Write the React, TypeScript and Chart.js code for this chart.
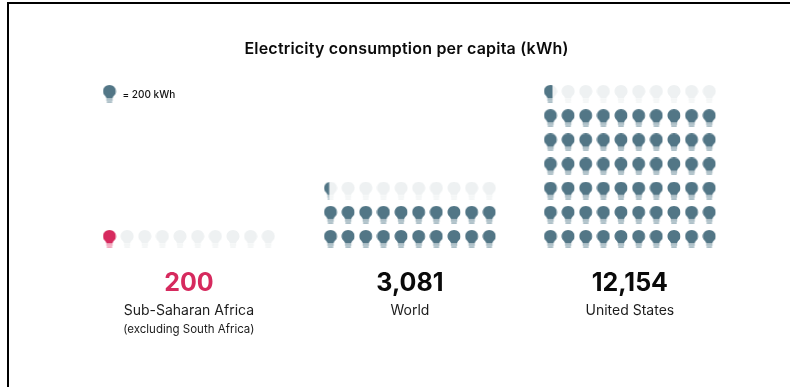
import React, { useEffect, useRef } from "react";
import { Chart, registerables } from "chart.js";

Chart.register(...registerables);

const FONT = "Inter, 'Noto Sans', sans-serif";
const TEAL = "#527686";
const TEAL_BASE = "#a3b8c1";
const CRIMSON = "#d62a5e";
const CRIMSON_BASE = "#f0a0b8";
const EMPTY = "#eef1f2";
const EMPTY_BASE = "#f3f5f6";

const chartTitle = "Electricity consumption per capita (kWh)";
const legendText = "= 200 kWh";
const regions = ["Sub-Saharan Africa", "World", "United States"];
const regionNotes = ["(excluding South Africa)", "", ""];
const consumption = [200, 3081, 12154];
const valueColors = [CRIMSON, "#0a0a0a", "#0a0a0a"];
const filledBulbs = [1, 20.4, 60.65];
const gridRows = [1, 3, 7];
const groupStartColumn = [0, 12.53, 25];
const COLUMNS = 10;

// Column/row units of the hidden scales: one unit is one bulb slot.
const COL_PX = 17.64;
const ROW_PX = 24.17;
const ORIGIN_X = 109.5;
const ORIGIN_Y = 239;

function bulbPath(c: CanvasRenderingContext2D) {
  c.beginPath();
  c.moveTo(3.9, 13.6);
  c.lineTo(3.7, 12.4);
  c.bezierCurveTo(3.2, 10.8, 0.5, 9.6, 0.5, 6.4);
  c.bezierCurveTo(0.5, 2.9, 3.4, 0.1, 7, 0.1);
  c.bezierCurveTo(10.6, 0.1, 13.5, 2.9, 13.5, 6.4);
  c.bezierCurveTo(13.5, 9.6, 10.8, 10.8, 10.3, 12.4);
  c.lineTo(10.1, 13.6);
  c.closePath();
}

function bulbBase(c: CanvasRenderingContext2D) {
  c.fillRect(3.8, 14.1, 6.4, 1.7);
  c.fillRect(4.3, 16.2, 5.4, 1.7);
}

// One bulb sprite: the empty bulb, with the lit colour clipped to the fill fraction.
function bulbSprite(fraction: number, body: string, base: string) {
  const cv = document.createElement("canvas");
  cv.width = 14;
  cv.height = 18;
  const c = cv.getContext("2d") as CanvasRenderingContext2D;
  const paint = (b: string, s: string) => {
    c.fillStyle = b;
    bulbPath(c);
    c.fill();
    c.fillStyle = s;
    bulbBase(c);
  };
  paint(EMPTY, EMPTY_BASE);
  if (fraction > 0) {
    c.save();
    c.beginPath();
    c.rect(0, 0, 0.5 + 13 * fraction, 18);
    c.clip();
    c.clearRect(0, 0, 14, 18);
    paint(body, base);
    c.restore();
  }
  return cv;
}

type Cell = { x: number; y: number; sprite: HTMLCanvasElement };

function groupCells(g: number): Cell[] {
  const cells: Cell[] = [];
  const lit = g === 0 ? CRIMSON : TEAL;
  const litBase = g === 0 ? CRIMSON_BASE : TEAL_BASE;
  for (let i = 0; i < gridRows[g] * COLUMNS; i++) {
    const fraction = Math.max(0, Math.min(1, filledBulbs[g] - i));
    cells.push({
      x: groupStartColumn[g] + (i % COLUMNS),
      y: Math.floor(i / COLUMNS),
      sprite: bulbSprite(fraction, lit, litBase),
    });
  }
  return cells;
}

// Captions under each group, plus the heading and the key text, placed through the scales.
const captions = {
  id: "captions",
  afterDatasetsDraw(chart: any) {
    const { ctx, scales } = chart;
    ctx.save();
    ctx.textAlign = "center";
    ctx.textBaseline = "alphabetic";
    regions.forEach((name, g) => {
      const cx = scales.x.getPixelForValue(groupStartColumn[g] + (COLUMNS - 1) / 2);
      ctx.fillStyle = valueColors[g];
      ctx.font = `700 25px ${FONT}`;
      ctx.fillText(consumption[g].toLocaleString("en-US"), cx, 291);
      ctx.fillStyle = "#1c1c1c";
      ctx.font = `400 14px ${FONT}`;
      ctx.fillText(name, cx, 315);
      if (regionNotes[g]) {
        ctx.font = `400 11.5px ${FONT}`;
        ctx.fillText(regionNotes[g], cx, 333);
      }
    });
    ctx.textAlign = "center";
    ctx.fillStyle = "#0a0a0a";
    ctx.font = `600 16px ${FONT}`;
    ctx.letterSpacing = "0.2px";
    ctx.fillText(chartTitle, 406.5, 54);
    ctx.letterSpacing = "0px";
    ctx.textAlign = "left";
    ctx.fillStyle = "#111111";
    ctx.font = `500 10px ${FONT}`;
    ctx.fillText(legendText, 122.5, 97.5);
    ctx.restore();
  },
};

export default function App() {
  const ref = useRef<HTMLCanvasElement>(null);

  useEffect(() => {
    document.body.style.margin = "0";
    const legendBulb: Cell = { x: 0, y: 6, sprite: bulbSprite(1, TEAL, TEAL_BASE) };
    const chart = new Chart(ref.current as HTMLCanvasElement, {
      type: "scatter",
      data: {
        datasets: [
          ...regions.map((name, g) => {
            const cells = groupCells(g);
            return {
              label: name,
              data: cells.map((c) => ({ x: c.x, y: c.y })),
              pointStyle: cells.map((c) => c.sprite),
            };
          }),
          {
            label: legendText,
            data: [{ x: legendBulb.x, y: legendBulb.y }],
            pointStyle: [legendBulb.sprite],
          },
        ],
      } as any,
      options: {
        animation: false,
        responsive: false,
        events: [],
        layout: { padding: 0, autoPadding: false },
        scales: {
          x: {
            type: "linear",
            display: false,
            min: (0 - ORIGIN_X) / COL_PX,
            max: (790 - ORIGIN_X) / COL_PX,
          },
          y: {
            type: "linear",
            display: false,
            min: (ORIGIN_Y - 387) / ROW_PX,
            max: ORIGIN_Y / ROW_PX,
          },
        },
        plugins: {
          legend: { display: false },
          tooltip: { enabled: false },
          title: { display: false },
        },
      },
      plugins: [captions],
    } as any);
    return () => chart.destroy();
  }, []);

  return (
    <div style={{ position: "relative", width: 790, height: 387, background: "#fff", overflow: "hidden" }}>
      <div style={{ position: "absolute", left: 7, top: 2, right: 0, height: 2, background: "#000" }} />
      <div style={{ position: "absolute", left: 7, top: 2, bottom: 0, width: 2, background: "#000" }} />
      <canvas ref={ref} width={790} height={387} style={{ position: "absolute", left: 0, top: 0 }} />
    </div>
  );
}
